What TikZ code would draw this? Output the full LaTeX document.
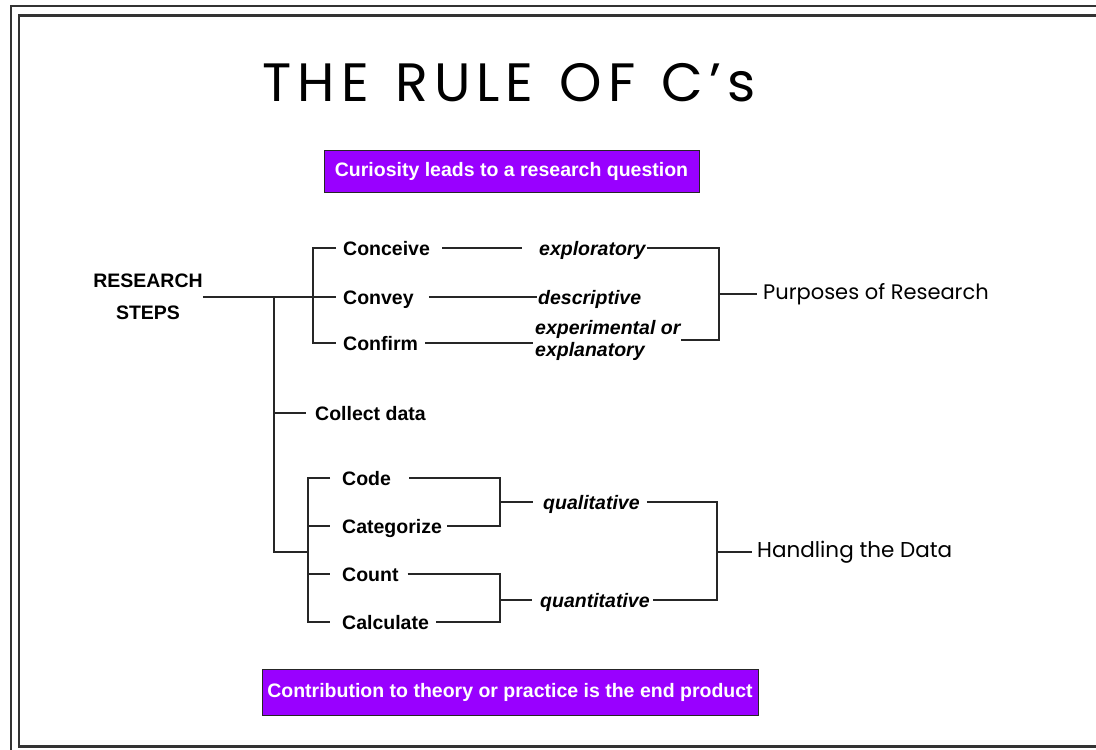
\documentclass[tikz,border=0pt]{standalone}
\usepackage{fontspec}
\setmainfont{Liberation Sans}
\newfontfamily\headfont{Poppins}
\newfontfamily\titlefont[LetterSpace=11]{Poppins}
\definecolor{boxpurple}{RGB}{153,0,255}

\begin{document}
\begin{tikzpicture}[x=1pt,y=-1pt,
  lbl/.style={anchor=west,inner sep=0pt,text height=14pt,text depth=0pt,
    font=\fontsize{19.5}{23}\selectfont\bfseries},
  ilbl/.style={lbl,font=\fontsize{19.5}{23}\selectfont\bfseries\itshape},
  head/.style={anchor=west,inner sep=0pt,font=\headfont\fontsize{21}{24}\selectfont},
  purp/.style={draw=black!85,line width=1pt,fill=boxpurple,text=white,inner sep=0pt,
    font=\fontsize{19.5}{23}\selectfont\bfseries},
  tree/.style={line width=1.1pt,black!85}]

  \clip (0,0) rectangle (1096,750);
  \fill[white] (0,0) rectangle (1096,750);
  % double frame, cut off on the right
  \draw[line width=2pt,black!80] (11,6) rectangle (1110,760);
  \draw[line width=2.5pt,black!80] (19,15.5) rectangle (1110,746.5);

  \node[font=\titlefont\fontsize{54}{60}\selectfont] (title) at (509,83) {THE\hspace{6pt} RULE\hspace{6pt} OF\hspace{6pt} C’s};
  \node[purp,minimum width=375pt,minimum height=42pt] (curio) at (511.5,171) {Curiosity leads to a research question};
  \node[purp,minimum width=496pt,minimum height=46pt] (contrib) at (510,692) {Contribution to theory or practice is the end product};

  \node[align=center,inner sep=0pt,font=\fontsize{19.5}{32}\selectfont\bfseries] (steps) at (148,297) {RESEARCH\\STEPS};

  % first group
  \node[lbl] (conceive) at (343,248) {Conceive};
  \node[lbl] (convey) at (343,297) {Convey};
  \node[lbl] (confirm) at (343,343) {Confirm};
  \node[ilbl] (explo) at (539,248) {exploratory};
  \node[ilbl] (descr) at (538,297) {descriptive};
  \node[anchor=west,inner sep=0pt,align=left,font=\fontsize{19.5}{22}\selectfont\bfseries\itshape] (exper) at (535,340) {experimental or\\explanatory};
  \node[head] (purpose) at (763,294) {Purposes of Research};

  \node[lbl] (collect) at (315,413) {Collect data};

  % second group
  \node[lbl] (code) at (342,478) {Code};
  \node[lbl] (categ) at (342,526) {Categorize};
  \node[lbl] (count) at (342,574) {Count};
  \node[lbl] (calc) at (342,622) {Calculate};
  \node[ilbl] (quali) at (543,502) {qualitative};
  \node[ilbl] (quanti) at (540,600) {quantitative};
  \node[head,font=\headfont\fontsize{21.5}{24}\selectfont] (handle) at (757,552) {Handling the Data};

  \coordinate (j1) at (313,297);
  \coordinate (j2) at (274,297);
  \coordinate (j3) at (308,552);
  \coordinate (k1) at (719,294);
  \coordinate (b1) at (500,502);
  \coordinate (b2) at (500,600);
  \coordinate (k2) at (717,552);

  \draw[tree] (steps.east) -- (j1);
  \draw[tree] ([xshift=-7pt]conceive.west) -| (j1) |- ([xshift=-7pt]confirm.west);
  \draw[tree] (j1) -- ([xshift=-7pt]convey.west);
  \draw[tree] ([xshift=12pt]conceive.east) -- ([xshift=-17pt]explo.west);
  \draw[tree] ([xshift=15pt]convey.east) -- ([xshift=-1pt]descr.west);
  \draw[tree] ([xshift=7pt]confirm.east) -- ([xshift=-2pt]confirm.east -| exper.west);
  \draw[tree] ([xshift=1pt]explo.east) -| (k1) |- (exper.east);
  \draw[tree] (k1) -- ([xshift=-6pt]purpose.west);

  \draw[tree] (j2) |- (j3);
  \draw[tree] (j2 |- collect.west) -- ([xshift=-9pt]collect.west);
  \draw[tree] ([xshift=-12pt]code.west) -| (j3) |- ([xshift=-12pt]calc.west);
  \draw[tree] (j3 |- categ.west) -- ([xshift=-12pt]categ.west);
  \draw[tree] (j3 |- count.west) -- ([xshift=-12pt]count.west);
  \draw[tree] ([xshift=18pt]code.east) -| (b1) |- ([xshift=5pt]categ.east);
  \draw[tree] (b1) -- ([xshift=-10pt]quali.west);
  \draw[tree] ([xshift=9pt]count.east) -| (b2) |- ([xshift=7pt]calc.east);
  \draw[tree] (b2) -- ([xshift=-8pt]quanti.west);
  \draw[tree] ([xshift=7pt]quali.east) -| (k2) |- ([xshift=3pt]quanti.east);
  \draw[tree] (k2) -- ([xshift=-5pt]handle.west);
\end{tikzpicture}
\end{document}
